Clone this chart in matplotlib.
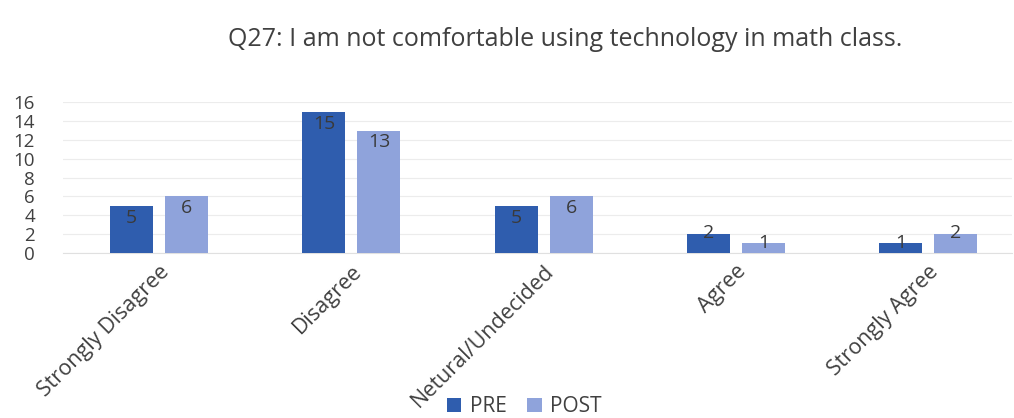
import matplotlib.pyplot as plt
import numpy as np

categories = ['Strongly Disagree', 'Disagree', 'Netural/Undecided', 'Agree', 'Strongly Agree']
pre = [5, 15, 5, 2, 1]
post = [6, 13, 6, 1, 2]
yticks = [0, 2, 4, 6, 8, 10, 12, 14, 16]

plt.rcParams['font.family'] = ['Open Sans', 'DejaVu Sans']

fig = plt.figure(figsize=(10.14, 4.18), dpi=100)
ax = fig.add_axes([0.062, 0.395, 0.936, 0.36])

x = np.arange(len(categories))
w = 0.225
off = 0.143
b1 = ax.bar(x - off, pre, w, color='#2F5DAE', label='PRE', zorder=3)
b2 = ax.bar(x + off, post, w, color='#8FA3DB', label='POST', zorder=3)

for bars in (b1, b2):
    for r in bars:
        h = r.get_height()
        ax.text(r.get_x() + r.get_width() / 2, h - 0.3 if h > 2 else h + 0.1, str(int(h)),
                ha='center', va='top' if h > 2 else 'center',
                fontsize=14, color='#3a3a3a', zorder=4)

ax.set_xlim(-0.5, 4.435)
ax.set_ylim(0, 16)
ax.set_yticks(yticks)
ax.tick_params(axis='y', labelsize=13.5, length=0, pad=20, colors='#404040')
ax.set_xticks(x)
ax.set_xticklabels(categories, rotation=45, ha='right', rotation_mode='anchor',
                   fontsize=15.5, color='#404040')
ax.tick_params(axis='x', length=0, pad=6)
ax.grid(axis='y', color='#ececec', linewidth=0.8, zorder=0)
for s in ['top', 'right', 'left']:
    ax.spines[s].set_visible(False)
ax.spines['bottom'].set_color('#e0e0e0')

fig.text(0.557, 0.905, 'Q27: I am not comfortable using technology in math class.',
         ha='center', va='center', fontsize=18, color='#404040')

fig.legend(handles=[b1, b2], loc='center', bbox_to_anchor=(0.517, 0.027), ncol=2,
           frameon=False, fontsize=15, handlelength=0.7, handleheight=0.7,
           columnspacing=1.0, handletextpad=0.4, labelcolor='#404040')

fig.savefig('out.png', dpi=100)
